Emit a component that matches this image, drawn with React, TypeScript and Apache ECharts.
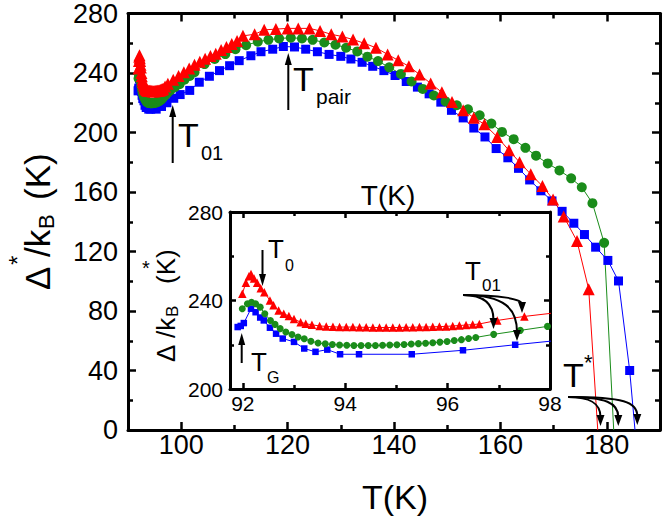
import { useEffect, useRef } from 'react'
import * as echarts from 'echarts'

const FONT = '"Liberation Sans", Arial, sans-serif'

// [T (K), Δ*/kB (K)]
const redPts: [number, number][] = [
  [91.99, 243], [92.06, 248], [92.12, 251], [92.16, 252], [92.22, 250], [92.28, 248],
  [92.35, 245.5], [92.42, 243.7], [92.53, 240], [92.6, 237.8], [92.7, 235.5], [92.8, 234],
  [92.9, 233], [93.0, 231.6], [93.13, 230.2], [93.23, 229.5], [93.35, 229], [93.5, 228.5],
  [93.63, 228.3], [93.76, 228.1], [93.89, 228], [94.02, 228], [94.15, 228], [94.28, 227.9],
  [94.41, 227.9], [94.54, 227.8], [94.67, 227.8], [94.8, 227.8], [94.93, 227.8], [95.06, 227.8],
  [95.19, 227.9], [95.32, 227.9], [95.45, 228], [95.58, 228], [95.71, 228.1], [95.84, 228.2],
  [95.97, 228.3], [96.1, 228.5], [96.23, 228.7], [96.36, 228.9], [96.49, 229.1], [96.62, 229.4],
  [96.97, 231], [97.5, 232.8], [98.5, 235.5], [99.5, 238], [100.5, 240.5], [101.5, 243],
  [102.5, 245.5], [103.5, 247.5], [104.5, 249.5], [105.5, 251.5], [106.5, 253], [107.5, 255.5],
  [108.5, 257.5], [109.5, 259.5], [110.5, 261.5], [111.6, 265], [113.8, 266], [115.6, 269],
  [117.8, 269.5], [120, 270], [122, 270], [124.1, 270], [126.1, 268.3], [128.2, 266],
  [130.3, 264.5], [132.3, 262.5], [134.4, 260], [136.6, 257], [138.8, 252.5], [140.8, 248.5],
  [142.8, 244.5], [144.8, 239], [146.9, 233], [149, 227], [150.9, 220.5], [153, 215],
  [155, 210], [157, 205.5], [159.4, 197], [161.6, 188], [163.6, 180], [165.7, 172],
  [167.9, 164], [169.9, 155], [171.9, 143.6], [174.4, 127], [176.6, 94.6], [178.3, 0],
]

const greenPts: [number, number][] = [
  [91.99, 236.3], [92.09, 238.5], [92.17, 239.2], [92.25, 238.5], [92.34, 237], [92.43, 234],
  [92.54, 231], [92.63, 229.2], [92.73, 227.3], [92.84, 225.8], [92.96, 224.6], [93.08, 223.5],
  [93.2, 222.7], [93.33, 221.6], [93.47, 220.8], [93.61, 220.4], [93.75, 220.1], [93.89, 219.9],
  [94.03, 219.8], [94.17, 219.7], [94.31, 219.7], [94.45, 219.7], [94.59, 219.7], [94.73, 219.8],
  [94.87, 219.9], [95.01, 220], [95.15, 220.1], [95.29, 220.3], [95.43, 220.5], [95.57, 220.7],
  [95.71, 220.9], [95.85, 221.2], [95.99, 221.5], [96.13, 221.9], [96.27, 222.3], [96.41, 222.8],
  [96.55, 223.3], [96.9, 224.7], [97.42, 226.5], [97.95, 228.3], [98.8, 230.5], [99.7, 232.5],
  [100.6, 235.5], [101.6, 238], [102.5, 240.5], [104.4, 246], [106.3, 249.4], [108.3, 252.7],
  [110.2, 256], [112.2, 258.7], [114.4, 261], [116.4, 262.3], [118.4, 263.2], [120.6, 263.7],
  [122.7, 263.2], [124.7, 262.3], [126.9, 260.5], [129, 259], [131, 257], [133.1, 254.5],
  [135, 251], [137, 248], [139.1, 243.8], [141.3, 239.4], [143.3, 234.3], [145.4, 229.3],
  [147.5, 224.9], [149.7, 220.9], [151.8, 218.3], [153.9, 215.6], [156.1, 211.6], [158.3, 206],
  [160.3, 200.4], [162.5, 195.5], [164.7, 189.7], [166.7, 184.4], [168.9, 179.2], [171.1, 174.5],
  [173.3, 169.2], [175.3, 163.2], [177.3, 152.5], [179.5, 125.8], [181.3, 0],
]

const bluePts: [number, number][] = [
  [91.9, 228], [91.96, 228.5], [92.02, 229.8], [92.16, 236.3], [92.25, 234.7], [92.34, 232.3],
  [92.41, 231], [92.53, 227.7], [92.65, 225], [92.78, 222.8], [93.0, 221.3], [93.2, 218.3],
  [93.42, 216.8], [93.65, 217.8], [93.9, 215.7], [94.27, 215.7], [95.3, 215.7], [96.3, 217.5],
  [97.32, 220], [98.6, 223], [99.8, 225.5], [101.6, 228.3], [103.4, 233.8], [105.3, 237.8],
  [107.2, 241.6], [109.1, 244.9], [110.9, 248.3], [113.1, 251.6], [115, 254.3], [117.2, 256],
  [119.2, 257.8], [121.3, 257.5], [123.4, 256], [125.6, 254.3], [127.8, 252.5], [130, 251.2],
  [131.9, 249.4], [134, 247.2], [136, 244.5], [138.1, 241.6], [140.2, 238.3], [142.3, 234.3],
  [144.4, 230.5], [146.6, 226], [148.8, 220.4], [150.8, 214.9], [153, 209.8], [155, 203],
  [157.1, 197], [159.2, 189.2], [161.4, 183], [163.4, 175.9], [165.5, 168.1], [167.6, 160.8],
  [169.7, 154], [171.6, 147], [173.8, 139], [175.8, 131.4], [177.9, 122.9], [180.2, 114],
  [182.2, 100.2], [184.3, 40], [185.3, 0],
]

const mainXMajor = [100, 120, 140, 160, 180]
const mainXMinor = [110, 130, 150, 170]
const insetXMajor = [92, 94, 96, 98]
const insetXMinor = [93, 95, 97]

const BLACK = '#000'

// end points on the T axis carry no marker (hidden under the T* arrows)
const toData = (pts: [number, number][]) =>
  pts.map(([t, d]) => (d === 0 ? { value: [t, d], symbol: 'none' } : [t, d]))

function xAx(grid: number, min: number, max: number, pos: string, ticks: number[], tickLen: number,
  line: boolean, labels: number[] | null, labelSize = 27, labelMargin = 8) {
  return {
    type: 'value', gridIndex: grid, min, max, position: pos,
    axisLine: { show: line, onZero: false, lineStyle: { color: BLACK, width: 3 } },
    axisTick: { show: true, inside: true, length: tickLen, customValues: ticks, lineStyle: { color: BLACK, width: 2.5 } },
    axisLabel: labels
      ? { show: true, customValues: labels, color: BLACK, fontSize: labelSize, fontFamily: FONT, margin: labelMargin }
      : { show: false },
    splitLine: { show: false },
  }
}

function yAx(grid: number, min: number, max: number, pos: string, major: number, minor: number,
  labels: boolean, labelSize: number, labelMargin: number) {
  return {
    type: 'value', gridIndex: grid, min, max, interval: 40, position: pos,
    axisLine: { show: true, onZero: false, lineStyle: { color: BLACK, width: 3 } },
    axisTick: { show: true, inside: true, length: major, lineStyle: { color: BLACK, width: 2.5 } },
    minorTick: { show: true, splitNumber: 2, length: minor, lineStyle: { color: BLACK, width: 2.5 } },
    axisLabel: labels
      ? { show: true, color: BLACK, fontSize: labelSize, fontFamily: FONT, margin: labelMargin }
      : { show: false },
    splitLine: { show: false },
    minorSplitLine: { show: false },
  }
}

function series(pts: [number, number][], color: string, symbol: string, size: number, xi: number, yi: number) {
  return {
    type: 'line', xAxisIndex: xi, yAxisIndex: yi, data: toData(pts),
    symbol, symbolSize: size, showAllSymbol: true,
    itemStyle: { color }, lineStyle: { color, width: 1 },
    silent: true, emphasis: { disabled: true },
  }
}

function txt(text: string, x: number, y: number, size: number, align = 'left') {
  return {
    type: 'text', z: 100,
    style: {
      text, x, y, fill: BLACK, fontSize: size, fontFamily: FONT,
      align, textAlign: align, verticalAlign: 'middle', textVerticalAlign: 'middle',
    },
  }
}

// children of a rotated title group (local coordinates)
function ltxt(text: string, x: number, y: number, size: number) {
  return {
    type: 'text',
    style: { text, x, y, fill: BLACK, fontSize: size, fontFamily: FONT, align: 'left', verticalAlign: 'middle', textVerticalAlign: 'middle' },
  }
}

function vArrow(x: number, from: number, tip: number) {
  const dir = tip < from ? 1 : -1
  return [
    { type: 'line', z: 100, shape: { x1: x, y1: from, x2: x, y2: tip + dir * 8 }, style: { stroke: BLACK, lineWidth: 2 } },
    { type: 'polygon', z: 100, shape: { points: [[x, tip], [x - 3.5, tip + dir * 12], [x + 3.5, tip + dir * 12]] }, style: { fill: BLACK } },
  ]
}

function curveArrow(x0: number, y0: number, tx: number, ty: number, cx1: number, bend: number) {
  return [
    {
      type: 'bezierCurve', z: 100,
      shape: { x1: x0, y1: y0, cpx1: cx1, cpy1: y0, cpx2: tx, cpy2: y0 + bend, x2: tx, y2: ty - 9 },
      style: { stroke: BLACK, lineWidth: 2, fill: null },
    },
    { type: 'polygon', z: 100, shape: { points: [[tx, ty], [tx - 4, ty - 11], [tx + 4, ty - 11]] }, style: { fill: BLACK } },
  ]
}

export default function App() {
  const ref = useRef<HTMLDivElement>(null)

  useEffect(() => {
    if (!ref.current) return
    const chart = echarts.init(ref.current, null, { renderer: 'svg' })

    chart.setOption({
      animation: false,
      backgroundColor: '#fff',
      grid: [
        { left: 128, top: 11, width: 532, height: 419, show: false },
        { left: 230, top: 212, width: 320, height: 177, show: true, backgroundColor: '#fff', borderWidth: 0 },
      ],
      xAxis: [
        xAx(0, 90, 190, 'bottom', mainXMajor, 8, true, mainXMajor, 27, 1),
        xAx(0, 90, 190, 'bottom', mainXMinor, 5, false, null),
        xAx(0, 90, 190, 'top', mainXMajor, 8, true, null),
        xAx(0, 90, 190, 'top', mainXMinor, 5, false, null),
        xAx(1, 91.75, 98, 'bottom', insetXMajor, 6, true, insetXMajor, 21, 4),
        xAx(1, 91.75, 98, 'bottom', insetXMinor, 4, false, null),
        xAx(1, 91.75, 98, 'top', insetXMajor, 6, true, null),
        xAx(1, 91.75, 98, 'top', insetXMinor, 4, false, null),
      ],
      yAxis: [
        yAx(0, 0, 280, 'left', 8, 5, true, 27, 10),
        yAx(0, 0, 280, 'right', 8, 5, false, 27, 10),
        yAx(1, 200, 280, 'left', 6, 4, true, 21, 7),
        yAx(1, 200, 280, 'right', 6, 4, false, 21, 7),
      ],
      series: [
        series(bluePts, '#0000ff', 'rect', 9, 0, 0),
        series(greenPts, '#1a8c1a', 'circle', 10, 0, 0),
        series(redPts, '#ff0000', 'triangle', 12, 0, 0),
        series(bluePts, '#0000ff', 'rect', 6.5, 4, 2),
        series(greenPts, '#1a8c1a', 'circle', 7, 4, 2),
        series(redPts, '#ff0000', 'triangle', 8.5, 4, 2),
      ],
      graphic: [
        // axis titles
        txt('T(K)', 395, 497, 34, 'center'),
        txt('T(K)', 388, 195, 28, 'center'),
        {
          type: 'group', x: 37.5, y: 290, rotation: Math.PI / 2, z: 100,
          children: [
            ltxt('Δ', 0, 0, 35),
            ltxt('*', 25, -20, 24),
            ltxt('/k', 33, 0, 35),
            ltxt('B', 61, 8.5, 22),
            ltxt('(K)', 90, 0, 35),
          ],
        },
        {
          type: 'group', x: 165.5, y: 362, rotation: Math.PI / 2, z: 100,
          children: [
            ltxt('Δ', 0, 0, 26),
            ltxt('/k', 24, 0, 26),
            ltxt('B', 45, 7, 17),
            ltxt('(K)', 78, 0, 26),
          ],
        },
        txt('*', 146, 268, 20, 'center'),
        // main annotations
        ...vArrow(172.7, 163, 105),
        txt('T', 178, 134.5, 34),
        txt('01', 201, 153, 20),
        ...vArrow(288.3, 110, 53),
        txt('T', 293, 78.5, 34),
        txt('pair', 316, 96, 21),
        txt('T', 563, 375, 34),
        txt('*', 584, 362, 22),
        ...curveArrow(568, 397, 600.5, 426, 590, 6),
        ...curveArrow(568, 397, 618.3, 426, 606, 6),
        ...curveArrow(568, 397, 637.3, 425, 624, 5),
        // inset annotations
        ...vArrow(262.5, 250, 286),
        txt('T', 268, 249, 26),
        txt('0', 285, 265, 16),
        ...vArrow(241.7, 363, 333),
        txt('T', 251, 362, 26),
        txt('G', 267, 377, 16),
        txt('T', 465, 271, 26),
        txt('01', 482, 285, 17),
        ...curveArrow(463, 295, 493.5, 329, 485, 10),
        ...curveArrow(463, 295, 517, 341, 505, 14),
        ...curveArrow(463, 295, 522, 313, 500, 4),
      ],
    })

    return () => chart.dispose()
  }, [])

  return <div ref={ref} style={{ position: 'absolute', left: 0, top: 0, width: 664, height: 523 }} />
}
